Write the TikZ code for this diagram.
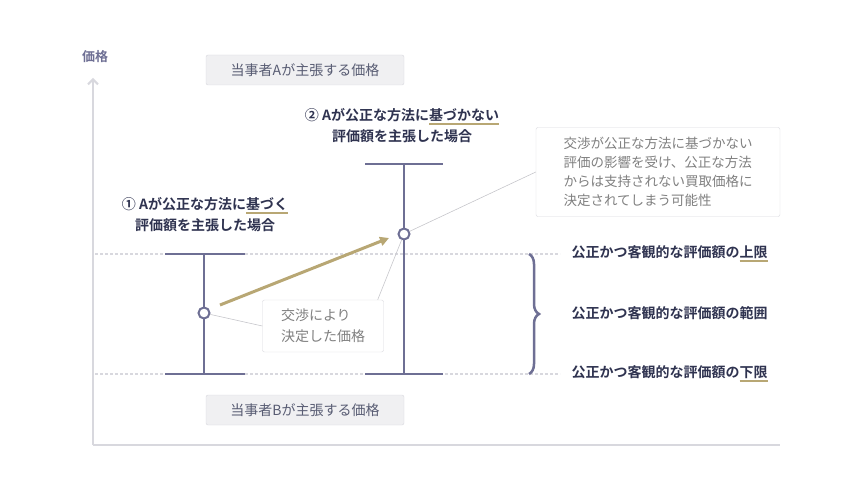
\documentclass[tikz,border=0pt]{standalone}
\usepackage{fontspec}
\setmainfont{Noto Sans CJK JP}
\newfontfamily\jpbold{Noto Sans CJK JP Bold}
\usetikzlibrary{arrows.meta,decorations.pathreplacing}
\definecolor{navy}{HTML}{2F3350}
\definecolor{barc}{HTML}{6E6F94}
\definecolor{tan}{HTML}{B8A774}
\definecolor{axisc}{HTML}{D8D8DE}
\definecolor{boxfill}{HTML}{F0F0F2}
\newlength\ulw
\newcommand\tanul[1]{\settowidth\ulw{#1}\rlap{\color{tan}\rule[-4pt]{\ulw}{2pt}}#1}
\tikzset{
  pricebox/.style={draw=axisc,fill=boxfill,rounded corners=2pt,minimum width=198pt,minimum height=30pt,text=navy!80,font=\fontsize{14}{16}\selectfont},
  notebox/.style={draw=axisc,fill=white,rounded corners=2pt,align=left,text=gray,inner sep=8pt},
  bar/.style={barc,line width=2.5pt},
  dot/.style={circle,draw=barc,line width=2pt,fill=white,minimum size=11pt,inner sep=0pt},
  thin/.style={axisc!80!gray,line width=0.6pt},
  lab/.style={text=navy,font=\jpbold\fontsize{14}{21}\selectfont}
}
\begin{document}
\begin{tikzpicture}[x=1pt,y=-1pt]
  \useasboundingbox (0,0) rectangle (860,500);
  % Axes
  \coordinate (o) at (93,445);
  \coordinate (ytop) at (93,78);
  \coordinate (xend) at (780,445);
  \draw[axisc,line width=2pt,-{Straight Barb[length=5pt]}] (o) -- (ytop);
  \draw[axisc,line width=2pt] (o) -- (xend);
  \node[text=barc,font=\jpbold\fontsize{13}{15}\selectfont] (ylab) at (95,57) {価格};
  % Claimed prices
  \node[pricebox] (pa) at (305,70) {当事者Aが主張する価格};
  \node[pricebox] (pb) at (305,410) {当事者Bが主張する価格};
  % Range
  \draw[axisc,line width=1.5pt,dash pattern=on 3pt off 2pt] (95,254) -- (560,254);
  \draw[axisc,line width=1.5pt,dash pattern=on 3pt off 2pt] (95,374) -- (560,374);
  \draw[barc,line width=2.5pt,decorate,decoration={brace,amplitude=10pt}] (529,254) -- (529,374);
  % Bars
  \draw[bar] (165,254) -- (245,254);
  \draw[bar] (165,374) -- (245,374);
  \draw[bar] (204,254) -- (204,374);
  \draw[bar] (365,164) -- (443,164);
  \draw[bar] (365,374) -- (443,374);
  \draw[bar] (404,164) -- (404,374);
  % Notes
  \node[notebox,minimum width=121pt,minimum height=52pt,font=\fontsize{14}{21}\selectfont] (nego) at (323,326) {交渉により\\決定した価格};
  \node[notebox,minimum width=244pt,minimum height=89pt,font=\fontsize{13.5}{19}\selectfont] (risk) at (658,172) {交渉が公正な方法に基づかない\\評価の影響を受け、公正な方法\\からは支持されない買取価格に\\決定されてしまう可能性};
  \node[dot] (c1) at (204,313) {};
  \node[dot] (c2) at (404,234) {};
  \draw[thin] (c1) -- (nego.west);
  \draw[thin] (c2) -- ([xshift=-6pt]nego.north east);
  \draw[thin] (c2) -- (risk.west);
  \draw[tan,line width=3pt,-{Triangle[length=9pt,width=9pt]}] (220,305) -- (389,238);
  % Labels
  \node[lab,align=center] (l1) at (205,215) {① Aが公正な方法に\tanul{基づく}\\評価額を主張した場合};
  \node[lab,align=center] (l2) at (402,126) {② Aが公正な方法に\tanul{基づかない}\\評価額を主張した場合};
  \node[lab,anchor=west] (r1) at (568,254) {公正かつ客観的な評価額の\tanul{上限}};
  \node[lab,anchor=west] (r2) at (568,313) {公正かつ客観的な評価額の範囲};
  \node[lab,anchor=west] (r3) at (568,374) {公正かつ客観的な評価額の\tanul{下限}};
\end{tikzpicture}
\end{document}
